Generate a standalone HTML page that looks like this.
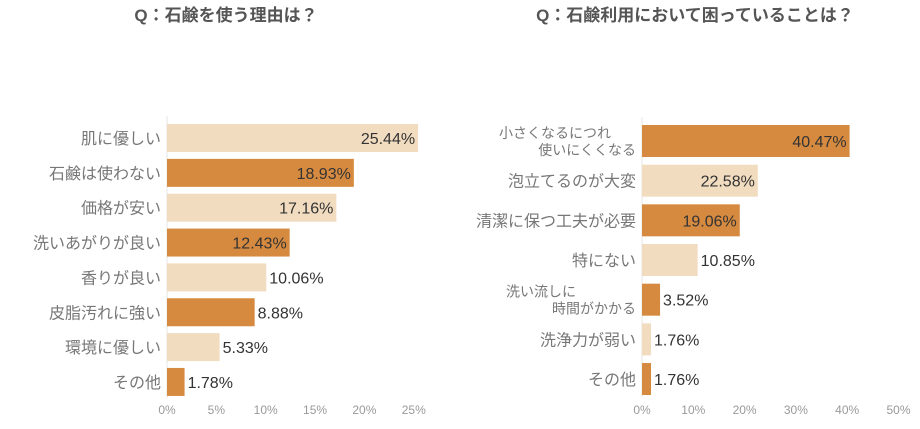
<!DOCTYPE html>
<html><head><meta charset="utf-8"><style>
body{margin:0;background:#fff;width:920px;height:424px;overflow:hidden;font-family:"Liberation Sans","Noto Sans CJK JP",sans-serif;}
svg text{font-family:"Liberation Sans","Noto Sans CJK JP",sans-serif;}
</style></head><body>
<svg id="c" width="920" height="424">
<text x="226" y="21" text-anchor="middle" font-size="17" font-weight="bold" fill="#555">Q：石鹸を使う理由は？</text>
<text x="695" y="21" text-anchor="middle" font-size="17" font-weight="bold" fill="#555">Q：石鹸利用において困っていることは？</text>
</svg>
<script>
const leftCats=["肌に優しい","石鹸は使わない","価格が安い","洗いあがりが良い","香りが良い","皮脂汚れに強い","環境に優しい","その他"];
const leftVals=[25.44,18.93,17.16,12.43,10.06,8.88,5.33,1.78];
const leftTicks=[0,5,10,15,20,25];
const rightCats=[["小さくなるにつれ","使いにくくなる"],["泡立てるのが大変"],["清潔に保つ工夫が必要"],["特にない"],["洗い流しに","時間がかかる"],["洗浄力が弱い"],["その他"]];
const rightVals=[40.47,22.58,19.06,10.85,3.52,1.76,1.76];
const rightTicks=[0,10,20,30,40,50];
const svg=document.getElementById('c');
const NS="http://www.w3.org/2000/svg";
function mk(t,a){const e=document.createElementNS(NS,t);for(const k in a)e.setAttribute(k,a[k]);svg.appendChild(e);return e;}
function chart(cats,vals,ticks,x0,pxPer,top0,pitch,bh,side){
  const x=v=>x0+v*pxPer;
  const ax=mk('line',{x1:x0,y1:top0-8,x2:x0,y2:top0+pitch*(cats.length-1)+bh+2,stroke:'#e4e4e4','stroke-width':1});
  
  
  cats.forEach((c,i)=>{
    const y=top0+i*pitch, cy=y+bh/2;
    const r=mk('rect',{x:x0,y:y,width:x(vals[i])-x0,height:bh,fill:i%2===(side==='left'?0:1)?'#f2dcc0':'#d68a3f'});
    
    
    const lines=Array.isArray(c)?c:[c];
    lines.forEach((ln,j)=>{
      const two=lines.length>1;
      const t=mk('text',{x:x0-6-(two&&j===0?(ln.length>5?25:60):0),y:two?cy-3+j*17:cy+6,'text-anchor':'end','font-size':two?14:16,fill:'#777'});
      t.textContent=ln;
      
      
    });
    const inside=vals[i]>12;
    const v=mk('text',{x:inside?x(vals[i])-3:x(vals[i])+3,y:cy+6,'text-anchor':inside?'end':'start','font-size':16,fill:'#333'});
    v.textContent=vals[i].toFixed(2)+'%';
    
    
  });
  ticks.forEach(tk=>{
    const t=mk('text',{x:x(tk),y:414,'text-anchor':'middle','font-size':12,fill:'#999'});
    t.textContent=tk+'%';
    
    
  });
}
chart(leftCats,leftVals,leftTicks,167,9.87,124,34.85,28,'left');
chart(rightCats,rightVals,rightTicks,642,5.13,125,39.67,32,'right');
</script>
</body></html>
